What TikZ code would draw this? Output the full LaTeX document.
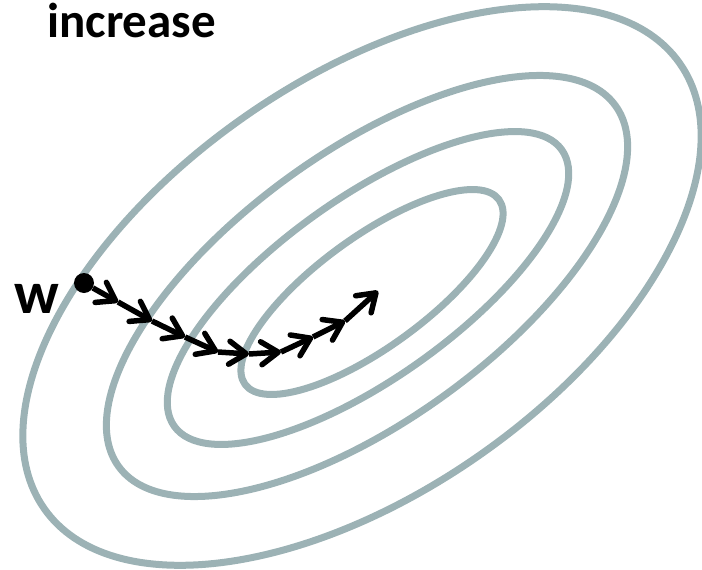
\documentclass[tikz,border=0pt]{standalone}
\usepackage{fontspec}
\setmainfont{Carlito}
\usetikzlibrary{arrows.meta}
\definecolor{lvlBrd}{RGB}{156,178,181}
\definecolor{stepBrd}{RGB}{0,0,0}
\tikzset{
  every node/.style={font=\bfseries},
  LVL/.style={draw=lvlBrd, line width=7pt},
  PT/.style={circle, fill=black, inner sep=0pt, minimum size=20pt},
  AR/.style={-{Straight Barb[length=17pt, width=23pt, round]}, line width=5.5pt, stepBrd},
}
\newcommand{\gstep}[2]{\draw[AR] (#1) -- (#2);}

\begin{document}
\begin{tikzpicture}[x=1pt, y=1pt, yscale=-1]

\useasboundingbox (0,0) rectangle (702,570);

%% ═══════════════════════════════════════════════════════════════════════════
%%  Level curves
%% ═══════════════════════════════════════════════════════════════════════════

\draw[LVL] (362,286) ellipse [x radius=388, y radius=206, rotate=-35];
\draw[LVL] (367,286) ellipse [x radius=307, y radius=134, rotate=-36];
\draw[LVL] (368,288) ellipse [x radius=238, y radius=90, rotate=-35.5];
\draw[LVL] (372,292) ellipse [x radius=157, y radius=55, rotate=-36];

\node[font=\fontsize{49}{52}\selectfont\bfseries, anchor=base west, inner sep=0pt]
  (INC) at (47,37) {increase};

%% ═══════════════════════════════════════════════════════════════════════════
%%  Descent path
%% ═══════════════════════════════════════════════════════════════════════════

\node[PT] (W) at (84,283) {};
\node[font=\fontsize{60}{64}\selectfont\bfseries, anchor=base west, inner sep=0pt]
  (WL) at (14,313) {w};

\coordinate (P1) at (118,302);
\coordinate (P2) at (152,321);
\coordinate (P3) at (185,337);
\coordinate (P4) at (218,352);
\coordinate (P5) at (249,354);
\coordinate (P6) at (281,352);
\coordinate (P7) at (313,337);
\coordinate (P8) at (345,321);
\coordinate (P9) at (378,291);

\gstep{W}{P1}
\gstep{P1}{P2}
\gstep{P2}{P3}
\gstep{P3}{P4}
\gstep{P4}{P5}
\gstep{P5}{P6}
\gstep{P6}{P7}
\gstep{P7}{P8}
\gstep{P8}{P9}

\end{tikzpicture}
\end{document}
